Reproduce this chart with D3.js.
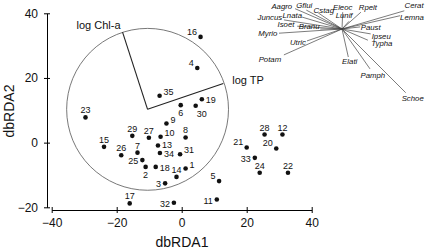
<!DOCTYPE html>
<html>
<head>
<meta charset="utf-8">
<script src="https://cdn.jsdelivr.net/npm/d3@7"></script>
<style>
  body { margin: 0; background: #fff; }
  svg { display: block; font-family: "Liberation Sans", Arial, Helvetica, sans-serif; }
</style>
</head>
<body>
<svg id="chart" width="426" height="249"></svg>
<script>
// site scores (dbRDA1, dbRDA2)
var siteIds = [1,2,3,4,5,6,7,8,9,10,11,12,13,14,15,16,17,18,19,20,21,22,23,24,25,26,27,28,29,30,31,32,33,34,35];
var siteX = [1.2,-11.1,-5.1,4.8,11.5,-0.3,-13.6,1.2,-4.7,-6.5,10.8,31.0,-7.3,-1.6,-23.9,5.8,-16.0,-8.0,6.2,29.1,20.0,32.7,-29.6,24.0,-12.1,-18.6,-10.1,25.5,-15.2,4.3,-0.5,-2.4,22.5,-6.7,-6.8];
var siteY = [-8.0,-7.5,-12.6,23.1,-11.9,11.6,-3.1,1.6,5.9,1.8,-17.6,2.5,-0.9,-10.6,-1.3,32.7,-18.8,-7.5,13.4,-1.8,-1.5,-9.3,7.8,-9.3,-5.4,-3.9,1.5,2.5,2.1,11.4,-3.6,-18.6,-4.7,-3.2,14.5];
// where each site number sits relative to its dot
var sitePlace = ["tr","b","l","tl","tl","b","t","t","tr","tr","l","t","rh","t","t","tl","t","r","r","tl","tl","t","t","t","l","t","t","t","t","br","tr","l","l","r","tr"];

// predictor vectors (circle centre, radius, ends)
var vecOrigin = [-10.5, 10.3];
var vecRadius = 24.9;
var vecNames = ["log Chl-a", "log TP"];
var vecEndX = [-18.2, 12.8];
var vecEndY = [34.2, 18.3];

// species loadings for the inset biplot
var spNames = ["Aagro","Gflui","Cstag","Eleoc","Rpelt","Cerat","Lemna","Lunif","Lnata","Juncus","Isoet","Branu","Myrio","Utric","Potam","Paust","Ipseu","Typha","Elati","Pamph","Schoe"];
var spX = [-0.67,-0.51,-0.34,0.01,0.27,0.89,0.83,0.10,-0.57,-0.83,-0.64,-0.31,-0.90,-0.50,-0.83,0.26,0.41,0.37,0.09,0.40,0.91];
var spY = [0.29,0.27,0.23,0.24,0.24,0.26,0.19,0.11,0.17,0.13,0.04,0.00,-0.06,-0.17,-0.37,0.03,-0.07,-0.16,-0.40,-0.57,-0.91];
var spLabX = [-0.86,-0.54,-0.26,0.01,0.37,1.03,1.00,0.03,-0.71,-1.03,-0.80,-0.47,-1.06,-0.63,-1.03,0.41,0.56,0.57,0.11,0.44,1.01];
var spLabY = [0.325,0.33,0.27,0.31,0.31,0.33,0.16,0.19,0.20,0.16,0.06,0.04,-0.07,-0.19,-0.43,0.025,-0.10,-0.21,-0.47,-0.66,-0.99];

var xTicks = [-40,-20,0,20,40];
var yTicks = [-20,0,20,40];

var svg = d3.select("#chart");

var x = d3.scaleLinear().domain([-40, 40]).range([51.7, 311.7]);
var y = d3.scaleLinear().domain([-20, 40]).range([207.3, 13.3]);

// axes
var xAxis = d3.axisBottom(x).tickValues(xTicks).tickSizeOuter(0).tickSizeInner(3).tickPadding(6);
var yAxis = d3.axisLeft(y).tickValues(yTicks).tickSizeOuter(0).tickSizeInner(3).tickPadding(6);

var gx = svg.append("g").attr("transform", "translate(0,210)").call(xAxis);
gx.selectAll(".tick line").attr("y1", -3).attr("y2", 3);
var gy = svg.append("g").attr("transform", "translate(47,0)").call(yAxis);
gy.selectAll(".tick line").attr("x1", -3).attr("x2", 3);

svg.selectAll(".domain").attr("stroke", "#000");
svg.selectAll(".tick line").attr("stroke", "#000");
svg.selectAll(".tick text")
    .attr("fill", "#111")
    .style("font-size", "12px")
    .style("font-family", "Liberation Sans, Arial, sans-serif");
gx.selectAll(".tick text").attr("y", 8);

svg.append("text")
    .attr("x", 182).attr("y", 247)
    .attr("text-anchor", "middle")
    .style("font-size", "14px")
    .attr("fill", "#111")
    .text("dbRDA1");

svg.append("text")
    .attr("transform", "translate(14,111) rotate(-90)")
    .attr("text-anchor", "middle")
    .style("font-size", "14px")
    .attr("fill", "#111")
    .text("dbRDA2");

// correlation circle and vectors
var pxPerUnit = x(1) - x(0);
svg.append("circle")
    .attr("cx", x(vecOrigin[0]))
    .attr("cy", y(vecOrigin[1]))
    .attr("r", vecRadius * pxPerUnit)
    .attr("fill", "none")
    .attr("stroke", "#555")
    .attr("stroke-width", 0.8);

svg.selectAll("line.vec")
    .data(vecNames)
    .enter()
    .append("line")
    .attr("class", "vec")
    .attr("x1", x(vecOrigin[0]))
    .attr("y1", y(vecOrigin[1]))
    .attr("x2", function(d, i){ return x(vecEndX[i]); })
    .attr("y2", function(d, i){ return y(vecEndY[i]); })
    .attr("stroke", "#222")
    .attr("stroke-width", 1.1);

svg.append("text")
    .attr("x", x(vecEndX[0]) - 2)
    .attr("y", y(vecEndY[0]) - 3)
    .attr("text-anchor", "end")
    .style("font-size", "11px")
    .attr("fill", "#111")
    .text(vecNames[0]);

svg.append("text")
    .attr("x", x(vecEndX[1]) + 9)
    .attr("y", y(vecEndY[1]) + 1)
    .attr("text-anchor", "start")
    .style("font-size", "11px")
    .attr("fill", "#111")
    .text(vecNames[1]);

// sites
var place = {
    t:  {dx: 0,    dy: -4,  anchor: "middle"},
    b:  {dx: 0,    dy: 11,  anchor: "middle"},
    l:  {dx: -4,   dy: 4,   anchor: "end"},
    r:  {dx: 4,    dy: 4,   anchor: "start"},
    rh: {dx: 4,    dy: 2.5, anchor: "start"},
    tl: {dx: -3.5, dy: -2,  anchor: "end"},
    tr: {dx: 4,    dy: -1,  anchor: "start"},
    br: {dx: 1,    dy: 11,  anchor: "start"}
};

svg.selectAll("circle.site")
    .data(siteIds)
    .enter()
    .append("circle")
    .attr("class", "site")
    .attr("cx", function(d, i){ return x(siteX[i]); })
    .attr("cy", function(d, i){ return y(siteY[i]); })
    .attr("r", 2.3)
    .attr("fill", "#111");

svg.selectAll("text.site")
    .data(siteIds)
    .enter()
    .append("text")
    .attr("class", "site")
    .attr("x", function(d, i){ return x(siteX[i]) + place[sitePlace[i]].dx; })
    .attr("y", function(d, i){ return y(siteY[i]) + place[sitePlace[i]].dy; })
    .attr("text-anchor", function(d, i){ return place[sitePlace[i]].anchor; })
    .style("font-size", "9px")
    .attr("fill", "#111")
    .text(function(d){ return d; });

// inset species biplot
var sx = d3.scaleLinear().domain([-1, 1]).range([272, 412]);
var sy = d3.scaleLinear().domain([-1, 1]).range([99, -41]);

svg.selectAll("line.sp")
    .data(spNames)
    .enter()
    .append("line")
    .attr("class", "sp")
    .attr("x1", sx(0))
    .attr("y1", sy(0))
    .attr("x2", function(d, i){ return sx(spX[i]); })
    .attr("y2", function(d, i){ return sy(spY[i]); })
    .attr("stroke", "#444")
    .attr("stroke-width", 0.7);

svg.selectAll("text.sp")
    .data(spNames)
    .enter()
    .append("text")
    .attr("class", "sp")
    .attr("x", function(d, i){ return sx(spLabX[i]); })
    .attr("y", function(d, i){ return sy(spLabY[i]); })
    .attr("text-anchor", "middle")
    .attr("dominant-baseline", "central")
    .style("font-size", "7.8px")
    .style("font-style", "italic")
    .attr("fill", "#111")
    .text(function(d){ return d; });
</script>
</body>
</html>
